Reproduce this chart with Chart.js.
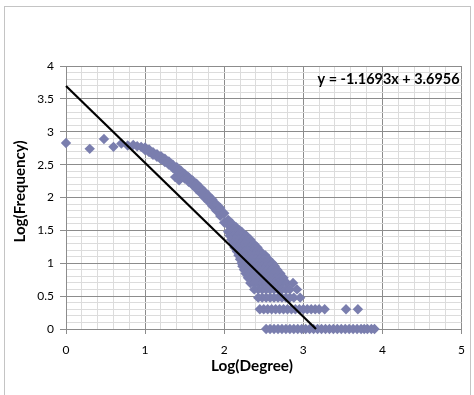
<!DOCTYPE html>
<html>
<head>
<meta charset="utf-8">
<script src="https://cdn.jsdelivr.net/npm/chart.js@4/dist/chart.umd.min.js"></script>
<style>
  html, body { margin: 0; padding: 0; background: #ffffff; }
  #wrap { width: 474px; height: 395px; }
</style>
</head>
<body>
<div id="wrap"><canvas id="c" width="474" height="395"></canvas></div>
<script>
// ---- Data ----
const xTitle = "Log(Degree)";
const yTitle = "Log(Frequency)";
const xTickLabels = ["0", "1", "2", "3", "4", "5"];
const yTickLabels = ["0", "0.5", "1", "1.5", "2", "2.5", "3", "3.5", "4"];

// low-degree head of the distribution
const headX = [0, 0.30, 0.48, 0.60, 0.70, 0.78, 0.85, 0.90, 0.95];
const headY = [2.83, 2.74, 2.89, 2.77, 2.82, 2.79, 2.80, 2.78, 2.77];

// descending band (upper and lower samples)
const bandX = [1.00, 1.00, 1.05, 1.05, 1.10, 1.10, 1.15, 1.15, 1.20, 1.20,
               1.25, 1.25, 1.30, 1.30, 1.35, 1.35, 1.38, 1.40, 1.40, 1.43,
               1.45, 1.45, 1.50, 1.50, 1.55, 1.55, 1.60, 1.60, 1.65, 1.65,
               1.70, 1.70, 1.75, 1.75, 1.80, 1.80, 1.85, 1.85, 1.90, 1.90,
               1.95, 1.95, 2.00, 2.00, 2.05, 2.05, 2.10, 2.10, 2.15, 2.19];
const bandY = [2.76, 2.72, 2.73, 2.69, 2.69, 2.65, 2.66, 2.62, 2.63, 2.58,
               2.59, 2.54, 2.55, 2.50, 2.50, 2.45, 2.31, 2.46, 2.40, 2.26,
               2.41, 2.34, 2.36, 2.29, 2.31, 2.24, 2.26, 2.19, 2.21, 2.13,
               2.15, 2.07, 2.09, 2.00, 2.03, 1.94, 1.97, 1.87, 1.90, 1.80,
               1.84, 1.72, 1.76, 1.62, 1.66, 1.58, 1.60, 1.53, 1.55, 1.50];

// dense tail: one row of x positions for each y level
const tailLevels = [1.48, 1.42, 1.36, 1.30, 1.24, 1.18, 1.12, 1.06, 1.00,
                    0.954, 0.903, 0.845, 0.778, 0.699, 0.602, 0.477, 0.301, 0];
const tailRows = [
  [2.05, 2.10, 2.15, 2.22],
  [2.07, 2.12, 2.17, 2.22, 2.28],
  [2.09, 2.14, 2.19, 2.24, 2.29, 2.33],
  [2.11, 2.16, 2.21, 2.26, 2.31, 2.37],
  [2.13, 2.18, 2.23, 2.28, 2.33, 2.38, 2.42],
  [2.16, 2.21, 2.26, 2.31, 2.36, 2.41, 2.46],
  [2.18, 2.23, 2.28, 2.33, 2.38, 2.43, 2.48, 2.52],
  [2.20, 2.25, 2.30, 2.35, 2.40, 2.45, 2.50, 2.56],
  [2.22, 2.27, 2.32, 2.37, 2.42, 2.47, 2.52, 2.57, 2.61],
  [2.23, 2.28, 2.33, 2.38, 2.43, 2.48, 2.53, 2.58, 2.64],
  [2.25, 2.30, 2.35, 2.40, 2.45, 2.50, 2.55, 2.60, 2.67],
  [2.27, 2.32, 2.37, 2.42, 2.47, 2.52, 2.57, 2.62, 2.66, 2.71],
  [2.30, 2.35, 2.40, 2.45, 2.50, 2.55, 2.60, 2.65, 2.70, 2.75],
  [2.33, 2.38, 2.43, 2.48, 2.53, 2.58, 2.63, 2.68, 2.73, 2.79, 2.87],
  [2.38, 2.43, 2.48, 2.53, 2.58, 2.63, 2.68, 2.73, 2.78, 2.83, 2.92],
  [2.43, 2.48, 2.53, 2.58, 2.63, 2.68, 2.73, 2.78, 2.83, 2.88, 2.96],
  [2.45, 2.50, 2.55, 2.60, 2.65, 2.70, 2.75, 2.80, 2.85, 2.90, 2.95, 3.00,
   3.05, 3.10, 3.15, 3.20, 3.27, 3.54, 3.69],
  [2.53, 2.58, 2.63, 2.68, 2.73, 2.78, 2.83, 2.88, 2.93, 2.98, 3.03, 3.08,
   3.13, 3.18, 3.23, 3.28, 3.33, 3.38, 3.43, 3.48, 3.53, 3.58, 3.63, 3.68,
   3.73, 3.77, 3.81, 3.86, 3.90]
];

// linear trendline shown on the chart
const trendSlope = -1.1693;
const trendIntercept = 3.6956;
const trendLabel = "y = -1.1693x + 3.6956";

// ---- Build datasets from the arrays ----
const points = [];
headX.forEach((x, i) => points.push({ x: x, y: headY[i] }));
bandX.forEach((x, i) => points.push({ x: x, y: bandY[i] }));
tailLevels.forEach((lvl, r) => tailRows[r].forEach(x => points.push({ x: x, y: lvl })));

const trendPoints = [
  { x: 0, y: trendIntercept },
  { x: -trendIntercept / trendSlope, y: 0 }
];

const FONT = "Lato, 'Open Sans', 'Liberation Sans', sans-serif";
const MAJOR = '#8c8c8c';
const MINOR = '#dcdcdc';
const isMult = (v, step) => Math.abs(v / step - Math.round(v / step)) < 1e-6;

const decorPlugin = {
  id: 'decor',
  beforeDraw(chart) {
    const c = chart.ctx;
    c.save();
    c.fillStyle = '#ffffff';
    c.fillRect(0, 0, chart.width, chart.height);
    c.strokeStyle = '#c4c4c4';
    c.lineWidth = 1;
    c.strokeRect(4.5, 6.5, 466, 400);
    c.restore();
  },
  afterDraw(chart) {
    const c = chart.ctx;
    const a = chart.chartArea;
    const fit = (text, target) => {
      c.font = 'bold 20px ' + FONT;
      const w = c.measureText(text).width;
      return 20 * target / w;
    };
    c.save();
    c.fillStyle = '#000000';
    c.textBaseline = 'middle';
    // x title
    let s = fit(xTitle, 82);
    c.font = 'bold ' + s.toFixed(2) + 'px ' + FONT;
    c.textAlign = 'center';
    c.fillText(xTitle, a.left + (a.right - a.left) * 0.47, 366);
    // y title
    s = fit(yTitle, 102);
    c.font = 'bold ' + s.toFixed(2) + 'px ' + FONT;
    c.translate(20, a.top + (a.bottom - a.top) * 0.477);
    c.rotate(-Math.PI / 2);
    c.fillText(yTitle, 0, 0);
    c.restore();
    // equation label
    c.save();
    c.fillStyle = '#000000';
    c.textBaseline = 'middle';
    s = fit(trendLabel, 142);
    c.font = 'bold ' + s.toFixed(2) + 'px ' + FONT;
    c.textAlign = 'right';
    c.fillText(trendLabel, a.right - 2, chart.scales.y.getPixelForValue(3.8));
    c.restore();
  }
};

new Chart(document.getElementById('c'), {
  type: 'scatter',
  data: {
    datasets: [
      {
        type: 'line',
        label: 'trend',
        data: trendPoints,
        borderColor: '#000000',
        borderWidth: 2.2,
        pointRadius: 0,
        fill: false,
        clip: false,
        order: 0
      },
      {
        label: 'data',
        data: points,
        pointStyle: 'rectRot',
        pointRadius: 5.2,
        backgroundColor: '#7a7eae',
        borderColor: '#7a7eae',
        borderWidth: 0,
        clip: false,
        order: 1
      }
    ]
  },
  options: {
    responsive: false,
    animation: false,
    events: [],
    layout: { padding: { left: 0, right: 12, top: 66, bottom: 0 } },
    plugins: { legend: { display: false }, tooltip: { enabled: false } },
    scales: {
      x: {
        type: 'linear',
        min: 0, max: 5,
        afterFit(scale) { scale.height = 66; },
        ticks: {
          stepSize: 0.2,
          autoSkip: false,
          maxRotation: 0,
          padding: 9,
          color: '#000000',
          font: { family: FONT, size: 12 },
          callback: v => isMult(v, 1) ? xTickLabels[Math.round(v)] : ''
        },
        grid: {
          color: ctx => isMult(ctx.tick.value, 1) ? MAJOR : MINOR,
          tickColor: ctx => isMult(ctx.tick.value, 1) ? MAJOR : 'rgba(0,0,0,0)',
          tickLength: 5,
          lineWidth: 1
        },
        border: { color: MAJOR, width: 1 }
      },
      y: {
        type: 'linear',
        min: 0, max: 4,
        afterFit(scale) { scale.width = 66; },
        ticks: {
          stepSize: 0.1,
          autoSkip: false,
          padding: 6,
          color: '#000000',
          font: { family: FONT, size: 12 },
          callback: v => isMult(v, 0.5) ? yTickLabels[Math.round(v * 2)] : ''
        },
        grid: {
          color: ctx => isMult(ctx.tick.value, 0.5) ? MAJOR : MINOR,
          tickColor: ctx => isMult(ctx.tick.value, 0.5) ? MAJOR : 'rgba(0,0,0,0)',
          tickLength: 6,
          lineWidth: 1
        },
        border: { color: MAJOR, width: 1 }
      }
    }
  },
  plugins: [decorPlugin]
});
</script>
</body>
</html>
